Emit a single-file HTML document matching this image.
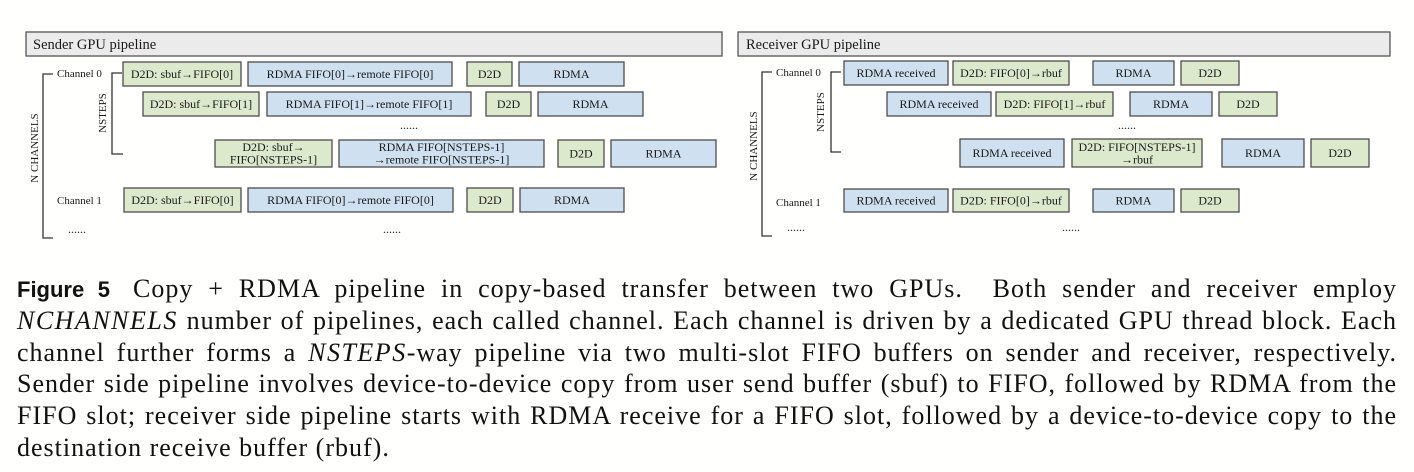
<!DOCTYPE html>
<html>
<head>
<meta charset="utf-8">
<style>
  html,body{margin:0;padding:0;}
  body{width:1414px;height:472px;background:#fffffd;position:relative;overflow:hidden;}
  svg{position:absolute;left:0;top:0;}
  .cap{position:absolute;left:17px;width:1380px;height:32px;line-height:32px;
       font-family:"Liberation Serif",serif;font-size:26px;color:#111;
       white-space:nowrap;text-align:justify;text-align-last:justify;letter-spacing:1.0px;}
  .cap.last{text-align:left;text-align-last:left;}
  .fig{font-family:"Liberation Sans",sans-serif;font-weight:bold;letter-spacing:0;margin-right:23px;font-size:22px;}
  i{font-style:italic;letter-spacing:1.5px;}
</style>
</head>
<body>
<svg width="1414" height="260" viewBox="0 0 1414 260" xmlns="http://www.w3.org/2000/svg">
  <style>
    .g{fill:#dce9cd;stroke:#4d4d4d;stroke-width:1.3;}
    .b{fill:#cfe0f1;stroke:#4d4d4d;stroke-width:1.3;}
    .h{fill:#ebebeb;stroke:#555;stroke-width:1.3;}
    .ln{stroke:#333;stroke-width:1.3;fill:none;}
    text{font-family:"Liberation Serif",serif;fill:#1a1a1a;}
    .t{font-size:12px;text-anchor:middle;}
    .c{font-size:11px;}
    .hd{font-size:14.5px;}
  </style>

  <!-- Sender header -->
  <rect class="h" x="26" y="32" width="696" height="24"/>
  <text class="hd" x="33" y="49">Sender GPU pipeline</text>

  <!-- Receiver header -->
  <rect class="h" x="738" y="32" width="652" height="24"/>
  <text class="hd" x="746" y="49">Receiver GPU pipeline</text>

  <!-- Sender brackets -->
  <path class="ln" d="M53 74 H43 V238 H53"/>
  <path class="ln" d="M122 73 H112 V154 H123"/>
  <text class="c" x="57" y="77">Channel 0</text>
  <text class="c" x="57" y="204">Channel 1</text>
  <text class="c" text-anchor="middle" transform="translate(38,148) rotate(-90)">N CHANNELS</text>
  <text class="c" text-anchor="middle" transform="translate(106,113) rotate(-90)">NSTEPS</text>

  <!-- Sender row 0 -->
  <rect class="g" x="123" y="62" width="118" height="24"/>
  <text class="t" x="182" y="78">D2D: sbuf→FIFO[0]</text>
  <rect class="b" x="248" y="62" width="204" height="24"/>
  <text class="t" x="350" y="78">RDMA FIFO[0]→remote FIFO[0]</text>
  <rect class="g" x="467" y="62" width="45" height="24"/>
  <text class="t" x="489.5" y="78">D2D</text>
  <rect class="b" x="519" y="62" width="105" height="24"/>
  <text class="t" x="571.5" y="78">RDMA</text>

  <!-- Sender row 1 -->
  <rect class="g" x="143" y="92" width="116" height="24"/>
  <text class="t" x="201" y="108">D2D: sbuf→FIFO[1]</text>
  <rect class="b" x="267" y="92" width="204" height="24"/>
  <text class="t" x="369" y="108">RDMA FIFO[1]→remote FIFO[1]</text>
  <rect class="g" x="486" y="92" width="45" height="24"/>
  <text class="t" x="508.5" y="108">D2D</text>
  <rect class="b" x="538" y="92" width="105" height="24"/>
  <text class="t" x="590.5" y="108">RDMA</text>

  <text class="t" x="409" y="129">......</text>

  <!-- Sender row N-1 -->
  <rect class="g" x="215" y="140" width="117" height="27"/>
  <text class="t" x="273.5" y="151">D2D: sbuf→</text>
  <text class="t" x="273.5" y="163.5">FIFO[NSTEPS-1]</text>
  <rect class="b" x="339" y="140" width="205" height="27"/>
  <text class="t" x="441.5" y="151">RDMA FIFO[NSTEPS-1]</text>
  <text class="t" x="441.5" y="163.5">→remote FIFO[NSTEPS-1]</text>
  <rect class="g" x="558" y="140" width="46" height="27"/>
  <text class="t" x="581" y="157.5">D2D</text>
  <rect class="b" x="611" y="140" width="105" height="27"/>
  <text class="t" x="663.5" y="157.5">RDMA</text>

  <!-- Sender channel 1 -->
  <rect class="g" x="124" y="188" width="117" height="24"/>
  <text class="t" x="182.5" y="204">D2D: sbuf→FIFO[0]</text>
  <rect class="b" x="248" y="188" width="205" height="24"/>
  <text class="t" x="350.5" y="204">RDMA FIFO[0]→remote FIFO[0]</text>
  <rect class="g" x="467" y="188" width="46" height="24"/>
  <text class="t" x="490" y="204">D2D</text>
  <rect class="b" x="520" y="188" width="104" height="24"/>
  <text class="t" x="572" y="204">RDMA</text>

  <text class="t" x="77" y="233">......</text>
  <text class="t" x="392" y="233">......</text>

  <!-- Receiver brackets -->
  <path class="ln" d="M772 72 H762 V236 H772"/>
  <path class="ln" d="M841 72 H831 V152 H841"/>
  <text class="c" x="776" y="76">Channel 0</text>
  <text class="c" x="776" y="206">Channel 1</text>
  <text class="c" text-anchor="middle" transform="translate(757,146) rotate(-90)">N CHANNELS</text>
  <text class="c" text-anchor="middle" transform="translate(824,112) rotate(-90)">NSTEPS</text>

  <!-- Receiver row 0 -->
  <rect class="b" x="844" y="61" width="104" height="24"/>
  <text class="t" x="896" y="77">RDMA received</text>
  <rect class="g" x="953" y="61" width="116" height="24"/>
  <text class="t" x="1011" y="77">D2D: FIFO[0]→rbuf</text>
  <rect class="b" x="1093" y="61" width="81" height="24"/>
  <text class="t" x="1133.5" y="77">RDMA</text>
  <rect class="g" x="1181" y="61" width="58" height="24"/>
  <text class="t" x="1210" y="77">D2D</text>

  <!-- Receiver row 1 -->
  <rect class="b" x="887" y="92" width="104" height="24"/>
  <text class="t" x="939" y="108">RDMA received</text>
  <rect class="g" x="996" y="92" width="117" height="24"/>
  <text class="t" x="1054.5" y="108">D2D: FIFO[1]→rbuf</text>
  <rect class="b" x="1130" y="92" width="82" height="24"/>
  <text class="t" x="1171" y="108">RDMA</text>
  <rect class="g" x="1219" y="92" width="58" height="24"/>
  <text class="t" x="1248" y="108">D2D</text>

  <text class="t" x="1127" y="129">......</text>

  <!-- Receiver row N-1 -->
  <rect class="b" x="960" y="139" width="104" height="28"/>
  <text class="t" x="1012" y="157">RDMA received</text>
  <rect class="g" x="1072" y="139" width="130" height="28"/>
  <text class="t" x="1137" y="151">D2D: FIFO[NSTEPS-1]</text>
  <text class="t" x="1137" y="163.5">→rbuf</text>
  <rect class="b" x="1222" y="139" width="82" height="28"/>
  <text class="t" x="1263" y="157">RDMA</text>
  <rect class="g" x="1311" y="139" width="58" height="28"/>
  <text class="t" x="1340" y="157">D2D</text>

  <!-- Receiver channel 1 -->
  <rect class="b" x="844" y="189" width="104" height="23"/>
  <text class="t" x="896" y="204.5">RDMA received</text>
  <rect class="g" x="953" y="189" width="116" height="23"/>
  <text class="t" x="1011" y="204.5">D2D: FIFO[0]→rbuf</text>
  <rect class="b" x="1093" y="189" width="81" height="23"/>
  <text class="t" x="1133.5" y="204.5">RDMA</text>
  <rect class="g" x="1181" y="189" width="58" height="23"/>
  <text class="t" x="1210" y="204.5">D2D</text>

  <text class="t" x="796" y="231">......</text>
  <text class="t" x="1071" y="231">......</text>
</svg>

<div class="cap" style="top:273px;"><span class="fig">Figure 5</span>Copy + RDMA pipeline in copy-based transfer between two GPUs.&nbsp; Both sender and receiver employ</div>
<div class="cap" style="top:304.8px;"><i>NCHANNELS</i> number of pipelines, each called channel. Each channel is driven by a dedicated GPU thread block. Each</div>
<div class="cap" style="top:336.6px;">channel further forms a <i>NSTEPS</i>-way pipeline via two multi-slot FIFO buffers on sender and receiver, respectively.</div>
<div class="cap" style="top:368.4px;">Sender side pipeline involves device-to-device copy from user send buffer (sbuf) to FIFO, followed by RDMA from the</div>
<div class="cap" style="top:400.2px;">FIFO slot; receiver side pipeline starts with RDMA receive for a FIFO slot, followed by a device-to-device copy to the</div>
<div class="cap last" style="top:432px;">destination receive buffer (rbuf).</div>
</body>
</html>
